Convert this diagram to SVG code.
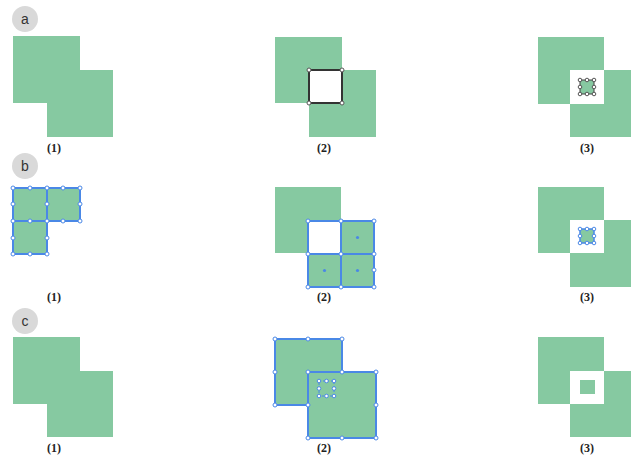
<svg xmlns="http://www.w3.org/2000/svg" width="631" height="459" viewBox="0 0 631 459">
<style>
.g{fill:#86c9a1}
.w{fill:#fff}
.sel{fill:none;stroke:#333;stroke-width:2}
.bs{fill:#86c9a1;stroke:#4a88e6;stroke-width:2}
.bsw{fill:#fff;stroke:#4a88e6;stroke-width:2}
.hk{fill:#fff;stroke:#555;stroke-width:1}
.hb{fill:#fff;stroke:#4a88e6;stroke-width:1}
.dot{fill:#4a88e6}
.lbl{font-family:"Liberation Serif",serif;font-weight:bold;font-size:12px;fill:#222;text-anchor:middle}
.badge{fill:#d9d9d9}
.bt{font-family:"Liberation Sans",Arial,sans-serif;font-size:14px;fill:#333;text-anchor:middle}
</style>
<rect width="631" height="459" fill="#fff"/>

<g id="badge-a"><circle class="badge" cx="25" cy="19" r="13"/><text class="bt" x="25" y="24">a</text></g>
<g id="badge-b"><circle class="badge" cx="25" cy="166" r="13"/><text class="bt" x="25" y="171">b</text></g>
<g id="badge-c"><circle class="badge" cx="25" cy="321" r="13"/><text class="bt" x="25" y="326">c</text></g>

<!-- Row a -->
<g id="a1">
<rect class="g" x="13" y="36" width="67" height="67"/>
<rect class="g" x="47" y="70" width="66" height="67"/>
<text class="lbl" x="54" y="152">(1)</text>
</g>
<g id="a2">
<rect class="g" x="275" y="37" width="67" height="66"/>
<rect class="g" x="309" y="70" width="67" height="67"/>
<rect class="w" x="309" y="70" width="33" height="33"/>
<rect class="sel" x="309" y="70" width="33" height="33"/>
<circle class="hk" cx="309" cy="70" r="2"/><circle class="hk" cx="342" cy="70" r="2"/>
<circle class="hk" cx="309" cy="103" r="2"/><circle class="hk" cx="342" cy="103" r="2"/>
<text class="lbl" x="324" y="152">(2)</text>
</g>
<g id="a3">
<rect class="g" x="538" y="37" width="66" height="67"/>
<rect class="g" x="570" y="70" width="61" height="67"/>
<rect class="w" x="570" y="70" width="34" height="34"/>
<rect class="g" x="580" y="80" width="14" height="14"/>
<rect x="580" y="80" width="14" height="14" fill="none" stroke="#444" stroke-width="1"/>
<circle class="hk" cx="580" cy="80" r="1.8"/><circle class="hk" cx="587" cy="80" r="1.8"/><circle class="hk" cx="594" cy="80" r="1.8"/>
<circle class="hk" cx="580" cy="87" r="1.8"/><circle class="hk" cx="594" cy="87" r="1.8"/>
<circle class="hk" cx="580" cy="94" r="1.8"/><circle class="hk" cx="587" cy="94" r="1.8"/><circle class="hk" cx="594" cy="94" r="1.8"/>
<text class="lbl" x="587" y="152">(3)</text>
</g>

<!-- Row b -->
<g id="b1">
<rect class="bs" x="13" y="188" width="34" height="33"/>
<rect class="bs" x="47" y="188" width="33" height="33"/>
<rect class="bs" x="13" y="221" width="34" height="33"/>
<circle class="hb" cx="13" cy="188" r="2"/><circle class="hb" cx="30" cy="188" r="2"/><circle class="hb" cx="47" cy="188" r="2"/><circle class="hb" cx="63" cy="188" r="2"/><circle class="hb" cx="80" cy="188" r="2"/>
<circle class="hb" cx="13" cy="204" r="2"/><circle class="hb" cx="47" cy="204" r="2"/><circle class="hb" cx="80" cy="204" r="2"/>
<circle class="hb" cx="13" cy="221" r="2"/><circle class="hb" cx="30" cy="221" r="2"/><circle class="hb" cx="47" cy="221" r="2"/><circle class="hb" cx="63" cy="221" r="2"/><circle class="hb" cx="80" cy="221" r="2"/>
<circle class="hb" cx="13" cy="238" r="2"/><circle class="hb" cx="47" cy="238" r="2"/>
<circle class="hb" cx="13" cy="254" r="2"/><circle class="hb" cx="30" cy="254" r="2"/><circle class="hb" cx="47" cy="254" r="2"/>
<text class="lbl" x="54" y="301">(1)</text>
</g>
<g id="b2">
<rect class="g" x="275" y="187" width="66" height="66"/>
<rect class="bsw" x="308" y="221" width="33" height="33"/>
<rect class="bs" x="341" y="221" width="33" height="33"/>
<rect class="bs" x="308" y="254" width="33" height="33"/>
<rect class="bs" x="341" y="254" width="33" height="33"/>
<circle class="dot" cx="357.5" cy="237.5" r="1.6"/>
<circle class="dot" cx="324.5" cy="270.5" r="1.6"/>
<circle class="dot" cx="357.5" cy="270.5" r="1.6"/>
<circle class="hb" cx="308" cy="221" r="2"/><circle class="hb" cx="341" cy="221" r="2"/><circle class="hb" cx="374" cy="221" r="2"/>
<circle class="hb" cx="308" cy="254" r="2"/><circle class="hb" cx="341" cy="254" r="2"/><circle class="hb" cx="374" cy="254" r="2"/>
<circle class="hb" cx="308" cy="287" r="2"/><circle class="hb" cx="341" cy="287" r="2"/><circle class="hb" cx="374" cy="287" r="2"/>
<circle class="hb" cx="374" cy="270" r="2"/>
<text class="lbl" x="324" y="301">(2)</text>
</g>
<g id="b3">
<rect class="g" x="538" y="187" width="66" height="66"/>
<rect class="g" x="570" y="220" width="61" height="67"/>
<rect class="w" x="570" y="220" width="34" height="33"/>
<rect class="g" x="580" y="229" width="14" height="14"/>
<rect x="580" y="229" width="14" height="14" fill="none" stroke="#4a88e6" stroke-width="1.5"/>
<circle class="hb" cx="580" cy="229" r="1.8"/><circle class="hb" cx="587" cy="229" r="1.8"/><circle class="hb" cx="594" cy="229" r="1.8"/>
<circle class="hb" cx="580" cy="236" r="1.8"/><circle class="hb" cx="594" cy="236" r="1.8"/>
<circle class="hb" cx="580" cy="243" r="1.8"/><circle class="hb" cx="587" cy="243" r="1.8"/><circle class="hb" cx="594" cy="243" r="1.8"/>
<text class="lbl" x="587" y="301">(3)</text>
</g>

<!-- Row c -->
<g id="c1">
<rect class="g" x="13" y="337" width="67" height="67"/>
<rect class="g" x="47" y="371" width="66" height="66"/>
<text class="lbl" x="54" y="452">(1)</text>
</g>
<g id="c2">
<rect class="bs" x="275" y="339" width="67" height="66"/>
<rect class="bs" x="308" y="372" width="68" height="66"/>
<circle class="hb" cx="275" cy="339" r="2"/><circle class="hb" cx="308" cy="339" r="2"/><circle class="hb" cx="342" cy="339" r="2"/>
<circle class="hb" cx="275" cy="372" r="2"/><circle class="hb" cx="275" cy="405" r="2"/>
<circle class="hb" cx="342" cy="372" r="2"/><circle class="hb" cx="308" cy="372" r="2"/><circle class="hb" cx="376" cy="372" r="2"/>
<circle class="hb" cx="308" cy="405" r="2"/><circle class="hb" cx="376" cy="405" r="2"/>
<circle class="hb" cx="308" cy="438" r="2"/><circle class="hb" cx="342" cy="438" r="2"/><circle class="hb" cx="376" cy="438" r="2"/>
<rect x="319" y="381" width="15" height="15" fill="none" stroke="#4a88e6" stroke-width="1" stroke-dasharray="2 2"/>
<circle class="hb" cx="319" cy="381" r="1.8"/><circle class="hb" cx="326.5" cy="381" r="1.8"/><circle class="hb" cx="334" cy="381" r="1.8"/>
<circle class="hb" cx="319" cy="388.5" r="1.8"/><circle class="hb" cx="334" cy="388.5" r="1.8"/>
<circle class="hb" cx="319" cy="396" r="1.8"/><circle class="hb" cx="326.5" cy="396" r="1.8"/><circle class="hb" cx="334" cy="396" r="1.8"/>
<text class="lbl" x="324" y="452">(2)</text>
</g>
<g id="c3">
<rect class="g" x="538" y="337" width="66" height="67"/>
<rect class="g" x="570" y="371" width="61" height="66"/>
<rect class="w" x="570" y="371" width="34" height="33"/>
<rect class="g" x="580" y="380" width="15" height="14"/>
<text class="lbl" x="587" y="452">(3)</text>
</g>
</svg>
